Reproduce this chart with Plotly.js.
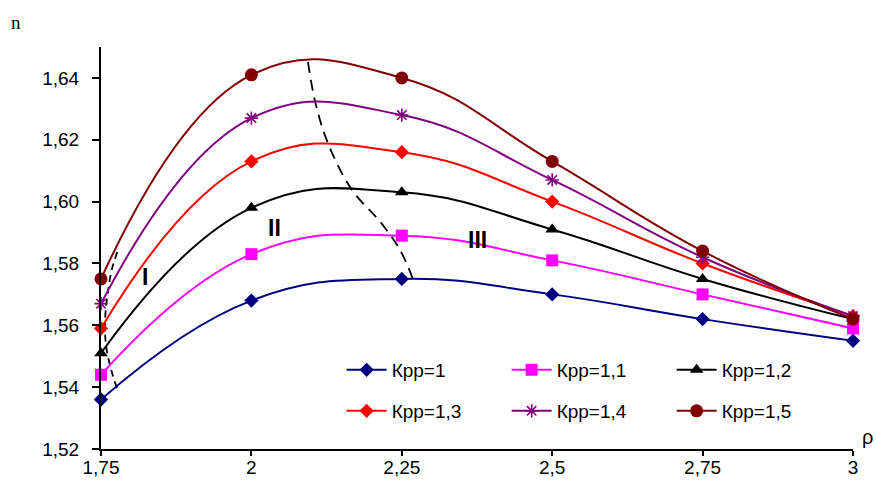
<!DOCTYPE html>
<html>
<head>
<meta charset="utf-8">
<script src="https://cdn.plot.ly/plotly-3.0.1.min.js"></script>
<style>html,body{margin:0;padding:0;background:#fff;}#chart{width:876px;height:481px;}</style>
</head>
<body>
<div id="chart"></div>
<script>
var rho = [1.75, 2, 2.25, 2.5, 2.75, 3];
var names = ["Кpp=1", "Кpp=1,1", "Кpp=1,2", "Кpp=1,3", "Кpp=1,4", "Кpp=1,5"];
var kpp10 = [1.536, 1.568, 1.575, 1.570, 1.562, 1.555];
var kpp11 = [1.544, 1.583, 1.589, 1.581, 1.570, 1.559];
var kpp12 = [1.551, 1.598, 1.603, 1.591, 1.575, 1.562];
var kpp13 = [1.559, 1.613, 1.616, 1.600, 1.580, 1.563];
var kpp14 = [1.567, 1.627, 1.628, 1.607, 1.582, 1.563];
var kpp15 = [1.575, 1.641, 1.640, 1.613, 1.584, 1.562];

// zone boundaries (dashed)
var bound1X = [1.7766, 1.7678, 1.7595, 1.7566, 1.7583, 1.7621, 1.7678, 1.7783];
var bound1Y = [1.5397, 1.5450, 1.5520, 1.5585, 1.5660, 1.5715, 1.5779, 1.5844];
var bound2X = [2.094, 2.106, 2.127, 2.167, 2.214, 2.247, 2.269];
var bound2Y = [1.6452, 1.6323, 1.619, 1.6038, 1.5935, 1.5844, 1.5747];

var zoneText = ["I", "II", "III"];
var zoneX = [1.823, 2.039, 2.376];
var zoneY = [1.5757, 1.5915, 1.5876];

var xTickVals = [1.75, 2, 2.25, 2.5, 2.75, 3];
var xTickText = ["1,75", "2", "2,25", "2,5", "2,75", "3"];
var yTickVals = [1.52, 1.54, 1.56, 1.58, 1.60, 1.62, 1.64];
var yTickText = ["1,52", "1,54", "1,56", "1,58", "1,60", "1,62", "1,64"];

var series = [kpp10, kpp11, kpp12, kpp13, kpp14, kpp15];
var colors = ["#000080", "#FF00FF", "#000000", "#FF0000", "#800080", "#800000"];
var symbols = ["diamond", "square", "triangle-up", "diamond", "asterisk-open", "circle"];
var sizes = [11, 12, 12, 11, 11, 13];
var legends = ["legend", "legend", "legend", "legend2", "legend2", "legend2"];

var traces = [];
traces.push({x: bound1X, y: bound1Y, mode: "lines", line: {color: "#000", width: 1.8, dash: "7px,5px", shape: "spline"}, showlegend: false, hoverinfo: "skip"});
traces.push({x: bound2X, y: bound2Y, mode: "lines", line: {color: "#000", width: 1.8, dash: "11px,7px", shape: "spline"}, showlegend: false, hoverinfo: "skip"});

for (var i = 0; i < series.length; i++) {
  traces.push({
    x: rho, y: series[i], name: names[i], mode: "lines+markers",
    line: {color: colors[i], width: 2, shape: "spline", smoothing: 1.25},
    marker: {color: colors[i], symbol: symbols[i], size: sizes[i], line: {color: colors[i], width: i === 4 ? 1.6 : 0}},
    legend: legends[i], cliponaxis: false
  });
}

var annotations = [];
for (var j = 0; j < zoneText.length; j++) {
  annotations.push({x: zoneX[j], y: zoneY[j], xref: "x", yref: "y", text: "<b>" + zoneText[j] + "</b>", showarrow: false,
    font: {family: "Liberation Sans, Arial", size: 23, color: "#000"}});
}
annotations.push({x: 0, y: 1, xref: "paper", yref: "paper", xanchor: "left", yanchor: "middle", xshift: -92, yshift: 25, text: "n", showarrow: false, font: {family: "Liberation Serif, Times New Roman", size: 19, color: "#000"}});
annotations.push({x: 1, y: 0, xref: "paper", yref: "paper", xanchor: "left", yanchor: "middle", xshift: 7, yshift: 12, text: "ρ", showarrow: false, font: {family: "Liberation Sans, Arial", size: 20, color: "#000"}});

var tickFont = {family: "Liberation Sans, Arial", size: 19, color: "#000"};
var legFont = {family: "Liberation Sans, Arial", size: 19, color: "#000"};
var layout = {
  width: 876, height: 481,
  margin: {l: 101, r: 23, t: 47, b: 32, autoexpand: false},
  paper_bgcolor: "#fff", plot_bgcolor: "#fff",
  showlegend: true,
  xaxis: {range: [1.75, 3], tickvals: xTickVals, ticktext: xTickText, showgrid: false, zeroline: false,
    showline: true, linecolor: "#000", linewidth: 2, ticks: "outside", ticklen: 5, tickwidth: 2, tickcolor: "#000",
    tickfont: tickFont, ticklabelstandoff: -5, automargin: false},
  yaxis: {range: [1.52, 1.65], tickvals: yTickVals, ticktext: yTickText, showgrid: false, zeroline: false,
    showline: true, linecolor: "#000", linewidth: 2, ticks: "outside", ticklen: 7, tickwidth: 2, tickcolor: "#000",
    tickfont: tickFont, ticklabelstandoff: 9, automargin: false},
  legend: {orientation: "h", x: 0.32, y: 0.1965, xanchor: "left", yanchor: "middle", bgcolor: "rgba(0,0,0,0)",
    font: legFont, entrywidth: 110, entrywidthmode: "pixels", itemwidth: 40},
  legend2: {orientation: "h", x: 0.32, y: 0.0945, xanchor: "left", yanchor: "middle", bgcolor: "rgba(0,0,0,0)",
    font: legFont, entrywidth: 110, entrywidthmode: "pixels", itemwidth: 40},
  annotations: annotations
};

Plotly.newPlot("chart", traces, layout, {displayModeBar: false, staticPlot: true});
</script>
</body>
</html>
